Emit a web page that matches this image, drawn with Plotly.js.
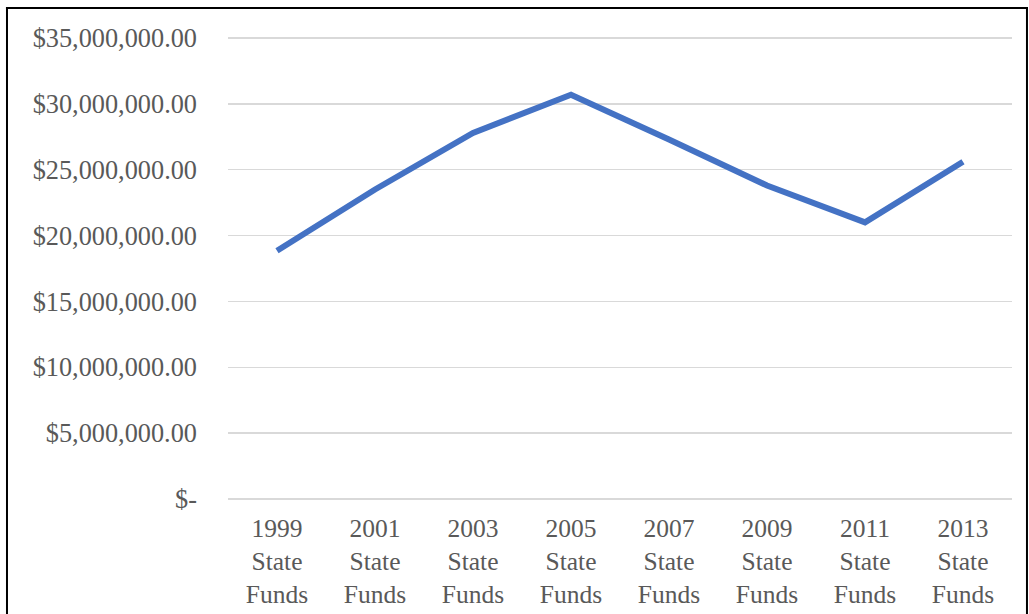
<!DOCTYPE html>
<html>
<head>
<meta charset="utf-8">
<script src="https://cdn.plot.ly/plotly-3.0.1.min.js"></script>
<style>
html,body{margin:0;padding:0;background:#fff;}
#chart{width:1029px;height:614px;}
</style>
</head>
<body>
<div id="chart"></div>
<script>
const years = ["1999", "2001", "2003", "2005", "2007", "2009", "2011", "2013"];
const tickLabels = years.map(y => y + "<br>State<br>Funds");
const stateFunds = [18850000, 23500000, 27800000, 30700000, 27300000, 23800000, 21000000, 25600000];
const yTickVals = [0, 5000000, 10000000, 15000000, 20000000, 25000000, 30000000, 35000000];
const yTickText = ["$-", "$5,000,000.00", "$10,000,000.00", "$15,000,000.00", "$20,000,000.00", "$25,000,000.00", "$30,000,000.00", "$35,000,000.00"];

const family = '"Liberation Serif", "Times New Roman", serif';
const xFont = {family: family, color: '#595959', size: 25.5};
const yFont = {family: family, color: '#595959', size: 26.3};

const trace = {
  x: years,
  y: stateFunds,
  type: 'scatter',
  mode: 'lines',
  line: {color: '#4472C4', width: 6},
  hoverinfo: 'skip'
};

const layout = {
  width: 1029,
  height: 614,
  margin: {l: 228, r: 17, t: 35, b: 112},
  paper_bgcolor: '#ffffff',
  plot_bgcolor: '#ffffff',
  showlegend: false,
  font: yFont,
  xaxis: {
    type: 'category',
    range: [-0.5, 7.5],
    tickvals: years,
    ticktext: tickLabels,
    showgrid: false,
    zeroline: false,
    showline: false,
    ticks: '',
    ticklabelstandoff: 8,
    tickfont: xFont,
    fixedrange: true
  },
  yaxis: {
    range: [-230000, 35230000],
    tickvals: yTickVals,
    ticktext: yTickText,
    showgrid: true,
    gridcolor: '#d9d9d9',
    gridwidth: 1.5,
    zeroline: false,
    showline: false,
    ticks: '',
    ticklabelstandoff: 30,
    tickfont: yFont,
    fixedrange: true
  },
  shapes: [
    {type: 'line', xref: 'paper', yref: 'paper', x0: -0.2819, x1: -0.2819, y0: -0.4, y1: 1.0600, line: {color: '#000', width: 2}},
    {type: 'line', xref: 'paper', yref: 'paper', x0: -0.2832, x1: 1.0204, y0: 1.0578, y1: 1.0578, line: {color: '#000', width: 2}},
    {type: 'line', xref: 'paper', yref: 'paper', x0: 1.0191, x1: 1.0191, y0: -0.4, y1: 1.0600, line: {color: '#000', width: 2}}
  ]
};

Plotly.newPlot('chart', [trace], layout, {displayModeBar: false, staticPlot: true});
</script>
</body>
</html>
